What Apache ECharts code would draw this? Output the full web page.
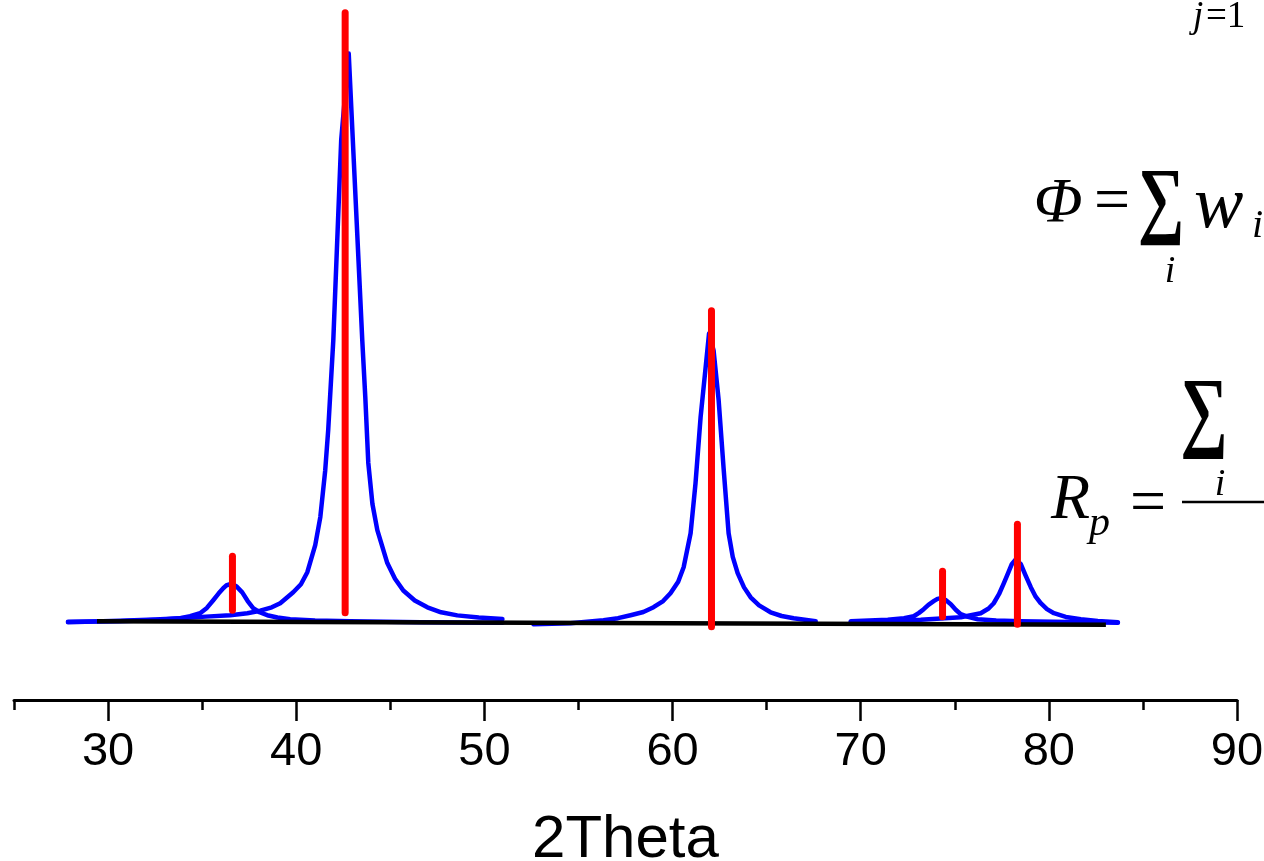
<!DOCTYPE html>
<html>
<head>
<meta charset="utf-8">
<script src="https://cdn.jsdelivr.net/npm/echarts@6/dist/echarts.min.js"></script>
<style>
  html, body { margin: 0; padding: 0; background: #ffffff; }
  #chart { width: 1264px; height: 861px; }
</style>
</head>
<body>
<div id="chart"></div>
<script>
// Fitted peak profiles (2θ in degrees, intensity in arbitrary units)
const peak1X = [27.87, 30.64, 32.77, 33.83, 34.36, 34.89, 35.25, 35.59, 35.87, 36.12, 36.3, 36.49, 36.65, 36.81, 37.13, 37.42, 37.71, 38.05, 38.46, 39.0, 39.68, 41.0, 42.87, 46.6, 50.96];
const peak1Y = [0.08, 0.16, 0.40, 0.64, 0.96, 1.45, 2.3, 3.54, 4.6, 5.46, 5.95, 6.1, 6.05, 5.8, 4.8, 3.4, 2.25, 1.6, 1.13, 0.75, 0.48, 0.28, 0.16, 0.0, -0.08];

const peak2X = [27.87, 30.64, 32.5, 33.83, 35.2, 36.49, 37.4, 38.09, 38.7, 39.15, 39.84, 40.25, 40.59, 41.01, 41.28, 41.54, 41.70, 41.97, 42.39, 42.79, 43.51, 43.67, 43.83, 44.05, 44.31, 44.84, 45.25, 45.69, 46.3, 46.97, 47.7, 48.56, 49.7, 50.96];
const peak2Y = [0.0, 0.24, 0.45, 0.64, 0.9, 1.13, 1.45, 1.85, 2.4, 3.05, 4.82, 6.1, 8.04, 12.4, 16.9, 24.4, 30.9, 45.3, 77.5, 91.4, 45.3, 36.2, 25.6, 19.0, 14.8, 9.5, 7.0, 5.1, 3.5, 2.4, 1.6, 1.1, 0.75, 0.5];

const peak3X = [52.61, 54.57, 56.33, 57.1, 57.77, 58.45, 58.99, 59.5, 59.89, 60.3, 60.59, 60.96, 61.22, 61.49, 61.76, 61.94, 62.18, 62.45, 62.71, 62.98, 63.2, 63.46, 63.8, 64.15, 64.6, 65.21, 65.8, 66.44, 67.61];
const peak3Y = [-0.32, -0.16, 0.32, 0.65, 1.13, 1.65, 2.41, 3.4, 4.66, 6.5, 8.84, 14.3, 22.3, 32.9, 41.0, 46.4, 43.7, 35.7, 24.9, 14.3, 10.5, 7.9, 5.6, 4.0, 2.7, 1.6, 1.0, 0.64, 0.16];

const peak4X = [69.47, 71.44, 72.3, 72.82, 73.1, 73.35, 73.6, 73.88, 74.08, 74.26, 74.5, 74.79, 75.05, 75.32, 75.7, 76.22, 77.2, 78.51, 83.67];
const peak4Y = [0.16, 0.40, 0.65, 0.96, 1.5, 2.09, 2.8, 3.38, 3.75, 3.86, 3.6, 2.89, 2.0, 1.29, 0.85, 0.48, 0.28, 0.16, -0.08];

const peak5X = [69.47, 73.19, 75.32, 76.38, 76.8, 77.07, 77.35, 77.61, 77.85, 78.03, 78.24, 78.51, 78.75, 79.04, 79.3, 79.57, 79.9, 80.27, 80.9, 81.70, 82.6, 83.67];
const peak5Y = [0.0, 0.40, 0.80, 1.45, 2.2, 3.05, 4.5, 6.27, 8.0, 9.32, 10.1, 9.32, 7.6, 5.63, 4.1, 3.05, 2.1, 1.45, 0.85, 0.48, 0.2, 0.0];

// Background line
const backgroundX = [29.41, 83.03];
const backgroundY = [0.16, -0.4];

// Reference reflections: position, stick bottom and stick top
const stickPos = [36.61, 42.60, 62.07, 74.35, 78.33];
const stickBottom = [1.93, 1.53, -0.72, 0.88, -0.32];
const stickTop = [10.6, 97.96, 50.06, 8.2, 15.75];

// Axis ticks
const majorTicks = [30, 40, 50, 60, 70, 80, 90];
const minorTicks = [25, 35, 45, 55, 65, 75, 85];

const zip = (xs, ys) => xs.map((x, i) => [x, ys[i]]);

const profiles = [
  zip(peak1X, peak1Y),
  zip(peak2X, peak2Y),
  zip(peak3X, peak3Y),
  zip(peak4X, peak4Y),
  zip(peak5X, peak5Y)
];

const chart = echarts.init(document.getElementById('chart'), null, { renderer: 'canvas' });

const serif = '"Liberation Serif", "Times New Roman", serif';
const sans = '"Liberation Sans", Arial, sans-serif';

function txt(text, x, y, font, align, extra) {
  return Object.assign({
    type: 'text',
    x: x,
    y: y,
    z: 10,
    style: {
      text: text,
      font: font,
      fill: '#000000',
      align: align || 'left',
      verticalAlign: 'middle'
    }
  }, extra || {});
}

const option = {
  backgroundColor: '#ffffff',
  animation: false,
  grid: { left: 14, right: 27, top: 0, bottom: 161, containLabel: false, outerBoundsMode: 'none' },
  xAxis: [
    {
      type: 'value',
      min: 25,
      max: 90,
      position: 'bottom',
      axisLine: { show: true, onZero: false, lineStyle: { color: '#000000', width: 3 } },
      axisTick: { show: true, customValues: minorTicks, length: 10, lineStyle: { color: '#000000', width: 2.5 } },
      axisLabel: { show: false },
      splitLine: { show: false }
    },
    {
      type: 'value',
      min: 25,
      max: 90,
      position: 'bottom',
      axisLine: { show: false, onZero: false },
      axisTick: { show: true, customValues: majorTicks, length: 21, lineStyle: { color: '#000000', width: 2.5 } },
      axisLabel: {
        show: true,
        customValues: majorTicks,
        fontFamily: sans,
        fontSize: 47,
        color: '#000000',
        margin: 29
      },
      splitLine: { show: false },
      name: '2Theta',
      nameLocation: 'middle',
      nameGap: 110,
      nameTextStyle: { fontFamily: sans, fontSize: 60, color: '#000000' }
    }
  ],
  yAxis: {
    type: 'value',
    min: -12.5,
    max: 100,
    show: false
  },
  series: [
    ...profiles.map((d) => ({
      type: 'line',
      data: d,
      xAxisIndex: 0,
      showSymbol: false,
      smooth: false,
      z: 2,
      lineStyle: { color: '#0000ff', width: 4.5, cap: 'round', join: 'round' }
    })),
    {
      type: 'line',
      data: zip(backgroundX, backgroundY),
      xAxisIndex: 0,
      showSymbol: false,
      z: 3,
      lineStyle: { color: '#000000', width: 4.5 }
    },
    {
      type: 'custom',
      xAxisIndex: 0,
      z: 4,
      data: stickPos.map((x, i) => [x, stickBottom[i], stickTop[i]]),
      encode: { x: 0, y: [1, 2] },
      renderItem: function (params, api) {
        const p0 = api.coord([api.value(0), api.value(1)]);
        const p1 = api.coord([api.value(0), api.value(2)]);
        return {
          type: 'line',
          shape: { x1: p0[0], y1: p0[1], x2: p1[0], y2: p1[1] },
          style: { stroke: '#ff0000', lineWidth: 7, lineCap: 'round' }
        };
      }
    }
  ],
  graphic: [
    // upper limit of a sum
    txt('j', 1193, 17, 'italic 37px ' + serif),
    txt('=1', 1206, 17, '37px ' + serif),
    // Φ = Σ_i w_i ...
    txt('Φ', 1058, 205, 'italic 64px ' + serif, 'center'),
    txt('=', 1112, 203, '64px ' + serif, 'center'),
    txt('∑', 1161, 205, 'bold 86px ' + serif, 'center', { scaleX: 0.76 }),
    txt('i', 1170, 272, 'italic 38px ' + serif, 'center'),
    txt('w', 1194, 208, 'italic 74px ' + serif),
    txt('i', 1252, 226, 'italic 40px ' + serif),
    // R_p = Σ_i ... / ...
    txt('∑', 1204, 417, 'bold 90px ' + serif, 'center', { scaleX: 0.74 }),
    txt('i', 1220, 485, 'italic 38px ' + serif, 'center'),
    txt('R', 1051, 501, 'italic 64px ' + serif),
    txt('p', 1089, 524, 'italic 42px ' + serif),
    txt('=', 1148, 505, '64px ' + serif, 'center'),
    {
      type: 'line',
      z: 10,
      shape: { x1: 1182, y1: 502, x2: 1264, y2: 502 },
      style: { stroke: '#000000', lineWidth: 2.5 }
    }
  ]
};

chart.setOption(option);
</script>
</body>
</html>
